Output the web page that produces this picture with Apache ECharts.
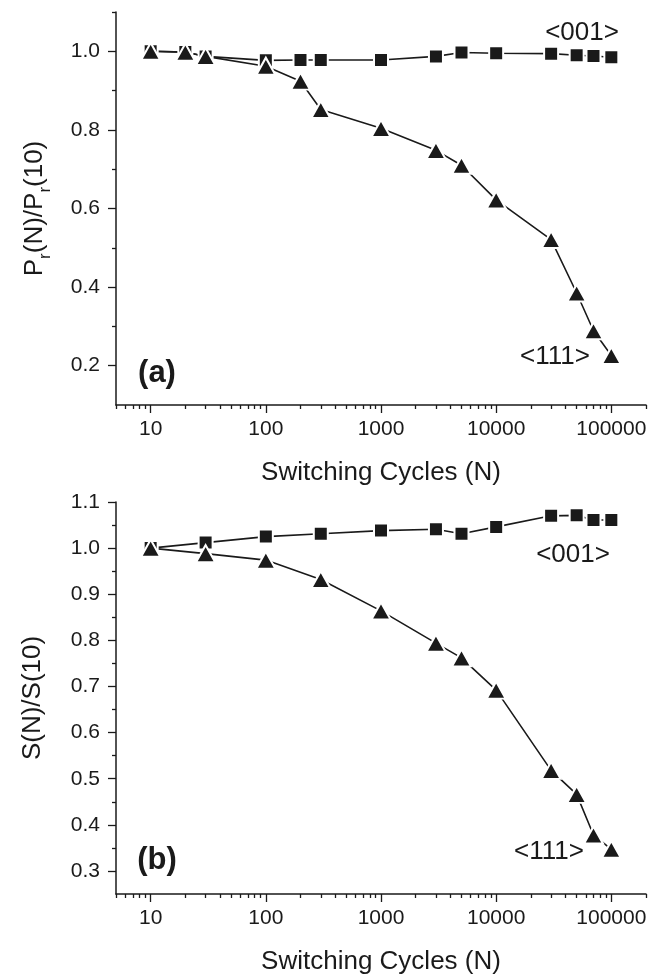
<!DOCTYPE html>
<html>
<head>
<meta charset="utf-8">
<script src="https://cdn.jsdelivr.net/npm/echarts@6/dist/echarts.min.js"></script>
<style>
html,body{margin:0;padding:0;background:#fff;}
#chart{width:664px;height:980px;}
</style>
</head>
<body>
<div id="chart"></div>
<script>
// ---- data ----
const N_TOP = [10, 20, 30, 100, 200, 300, 1000, 3000, 5000, 10000, 30000, 50000, 70000, 100000];
const TOP_001 = [1.0, 0.998, 0.987, 0.977, 0.978, 0.978, 0.978, 0.987, 0.997, 0.995, 0.994, 0.990, 0.988, 0.985];
const TOP_111 = [1.0, 0.998, 0.987, 0.962, 0.924, 0.852, 0.804, 0.748, 0.710, 0.622, 0.521, 0.385, 0.289, 0.226];

const N_BOT = [10, 30, 100, 300, 1000, 3000, 5000, 10000, 30000, 50000, 70000, 100000];
const BOT_001 = [1.0, 1.012, 1.025, 1.031, 1.038, 1.041, 1.031, 1.046, 1.070, 1.071, 1.061, 1.061];
const BOT_111 = [1.0, 0.988, 0.974, 0.932, 0.864, 0.794, 0.762, 0.692, 0.518, 0.466, 0.378, 0.347];

// ---- tick values ----
const X_MIN = 5, X_MAX = 200000;
const X_MAJOR = [10, 100, 1000, 10000, 100000];
const X_MINOR = [5, 6, 7, 8, 9, 20, 30, 40, 50, 60, 70, 80, 90, 200, 300, 400, 500, 600, 700, 800, 900,
  2000, 3000, 4000, 5000, 6000, 7000, 8000, 9000, 20000, 30000, 40000, 50000, 60000, 70000, 80000, 90000, 200000];
const Y_TOP_MAJOR = [0.2, 0.4, 0.6, 0.8, 1.0];
const Y_TOP_MINOR = [0.3, 0.5, 0.7, 0.9, 1.1];
const Y_BOT_MAJOR = [0.3, 0.4, 0.5, 0.6, 0.7, 0.8, 0.9, 1.0, 1.1];
const Y_BOT_MINOR = [0.35, 0.45, 0.55, 0.65, 0.75, 0.85, 0.95, 1.05];

const FONT = "'Liberation Sans', Arial, Helvetica, sans-serif";
const INK = '#1a1a1a';

function pairs(xs, ys) { return xs.map((x, i) => [x, ys[i]]); }

function logAxis(g) {
  return {
    type: 'log', logBase: 10, gridIndex: g, position: 'bottom', min: X_MIN, max: X_MAX,
    axisLine: { show: true, onZero: false, lineStyle: { color: INK, width: 1.5 } },
    axisTick: { show: false }, minorTick: { show: false }, splitLine: { show: false },
    axisLabel: {
      fontFamily: FONT, fontSize: 21, color: INK, margin: 14,
      formatter: function (v) {
        const l = Math.log10(v);
        return (Math.abs(l - Math.round(l)) < 1e-6 && v >= 9 && v <= 110000) ? String(Math.round(v)) : '';
      }
    },
    name: 'Switching Cycles (N)', nameLocation: 'middle', nameGap: 55,
    nameTextStyle: { fontFamily: FONT, fontSize: 26, color: INK }
  };
}
function xTickAxis(g, vals, len) {
  return {
    type: 'value', gridIndex: g, position: 'bottom',
    min: Math.log10(X_MIN), max: Math.log10(X_MAX),
    axisLine: { show: false, onZero: false },
    axisTick: { show: true, length: len, customValues: vals.map(v => Math.log10(v)), lineStyle: { color: INK, width: 1.3 } },
    axisLabel: { show: false }, splitLine: { show: false }
  };
}
function yMainAxis(g, min, max, major, name, gap) {
  return {
    type: 'value', gridIndex: g, position: 'left', min: min, max: max,
    axisLine: { show: true, onZero: false, lineStyle: { color: INK, width: 1.5 } },
    axisTick: { show: true, length: 8, customValues: major, lineStyle: { color: INK, width: 1.3 } },
    axisLabel: { customValues: major, formatter: v => v.toFixed(1), fontFamily: FONT, fontSize: 21, color: INK, margin: 16 },
    splitLine: { show: false },
    name: name, nameLocation: 'middle', nameGap: gap,
    nameTextStyle: {
      fontFamily: FONT, fontSize: 26, color: INK,
      rich: {
        m: { fontFamily: FONT, fontSize: 26, color: INK, lineHeight: 26, verticalAlign: 'top' },
        s: { fontFamily: FONT, fontSize: 17, color: INK, lineHeight: 17, verticalAlign: 'top', padding: [15, 0, 0, 0] }
      }
    }
  };
}
function yMinorAxis(g, min, max, minor) {
  return {
    type: 'value', gridIndex: g, position: 'left', min: min, max: max,
    axisLine: { show: false, onZero: false },
    axisTick: { show: true, length: 4, customValues: minor, lineStyle: { color: INK, width: 1.3 } },
    axisLabel: { show: false }, splitLine: { show: false }
  };
}
function lineSeries(xi, yi, data, sym, size) {
  return {
    type: 'line', xAxisIndex: xi, yAxisIndex: yi, data: data,
    symbol: sym, symbolSize: size, showSymbol: true,
    lineStyle: { color: INK, width: 1.6 },
    itemStyle: { color: INK, borderColor: '#fff', borderWidth: 2 },
    emphasis: { disabled: true }
  };
}
function txt(x, y, text, size, bold) {
  return {
    type: 'text', x: x, y: y, z: 100,
    style: { text: text, fill: INK, font: (bold ? 'bold ' : '') + size + 'px ' + FONT, align: 'center', verticalAlign: 'middle' }
  };
}

const chart = echarts.init(document.getElementById('chart'), null, { renderer: 'canvas' });
chart.setOption({
  animation: false,
  backgroundColor: '#fff',
  grid: [
    { left: 116, top: 12, width: 530, height: 393 },
    { left: 116, top: 502, width: 530, height: 392 }
  ],
  xAxis: [
    logAxis(0), xTickAxis(0, X_MAJOR, 8), xTickAxis(0, X_MINOR, 4),
    logAxis(1), xTickAxis(1, X_MAJOR, 8), xTickAxis(1, X_MINOR, 4)
  ],
  yAxis: [
    yMainAxis(0, 0.1, 1.1, Y_TOP_MAJOR, '{m|P}{s|r}{m|(N)/P}{s|r}{m|(10)}', 68),
    yMinorAxis(0, 0.1, 1.1, Y_TOP_MINOR),
    yMainAxis(1, 0.25, 1.1, Y_BOT_MAJOR, 'S(N)/S(10)', 70),
    yMinorAxis(1, 0.25, 1.1, Y_BOT_MINOR)
  ],
  series: [
    lineSeries(0, 0, pairs(N_TOP, TOP_001), 'rect', 14),
    lineSeries(0, 0, pairs(N_TOP, TOP_111), 'triangle', [19, 17]),
    lineSeries(3, 2, pairs(N_BOT, BOT_001), 'rect', 14),
    lineSeries(3, 2, pairs(N_BOT, BOT_111), 'triangle', [19, 17])
  ],
  graphic: [
    txt(582, 33, '<001>', 26, false),
    txt(555, 357, '<111>', 26, false),
    txt(157, 373, '(a)', 31, true),
    txt(573, 555, '<001>', 26, false),
    txt(549, 852, '<111>', 26, false),
    txt(157, 860, '(b)', 31, true)
  ]
});
</script>
</body>
</html>
